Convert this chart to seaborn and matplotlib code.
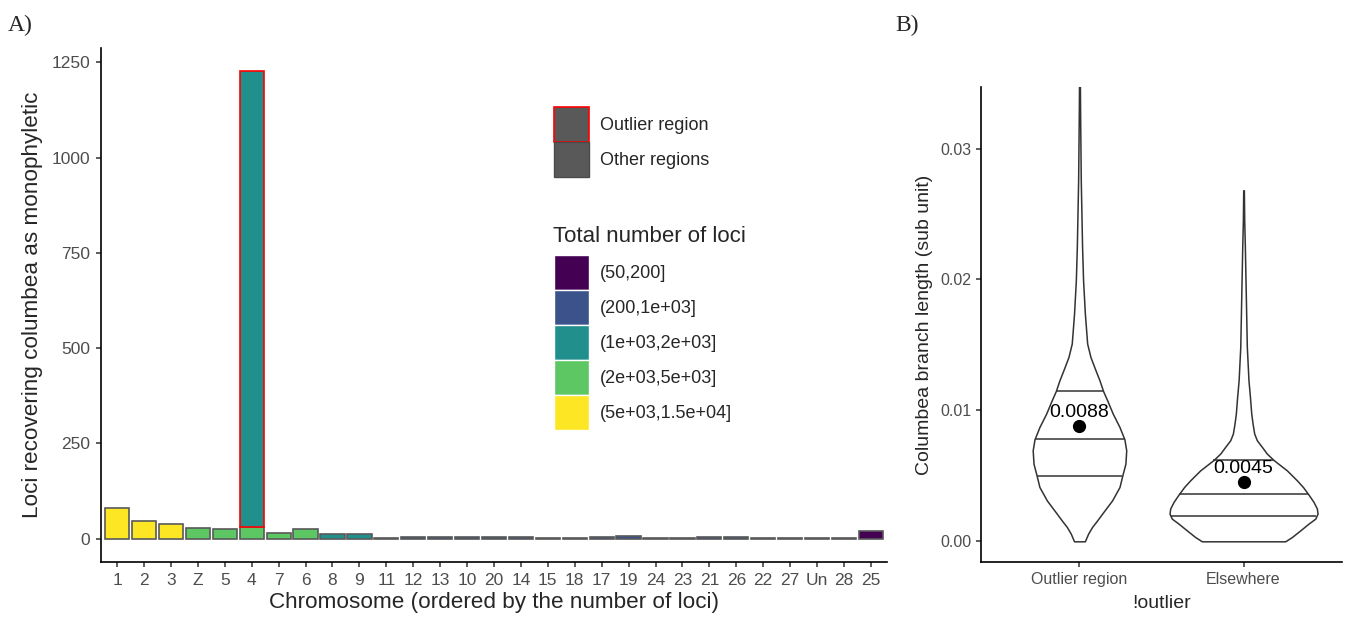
import matplotlib
matplotlib.use("Agg")
import matplotlib.pyplot as plt
from matplotlib.patches import Patch
import numpy as np
import pandas as pd
import seaborn as sns

# ── data: panel A ─────────────────────────────────────────
chrom = ["1", "2", "3", "Z", "5", "4", "7", "6", "8", "9", "11", "12", "13", "10",
         "20", "14", "15", "18", "17", "19", "24", "23", "21", "26", "22", "27",
         "Un", "28", "25"]
mono = [80, 46, 38, 28, 24, 31, 15, 25, 11, 13, 2, 5, 3, 5,
        4, 4, 2, 2, 3, 7, 2, 1, 4, 3, 2, 1,
        1, 1, 19]
bins = ["(50,200]", "(200,1e+03]", "(1e+03,2e+03]", "(2e+03,5e+03]", "(5e+03,1.5e+04]"]
loci_bin = [bins[4]] * 3 + [bins[3]] * 5 + [bins[2]] * 2 + [bins[1]] * 18 + [bins[0]]
outlier_chrom = "4"
outlier_mono = 1196
outlier_bin = bins[2]

# ── data: panel B ─────────────────────────────────────────
groups = ["Outlier region", "Elsewhere"]
means = [0.0088, 0.0045]
quartiles = [[0.0050, 0.0078, 0.0115], [0.0019, 0.0036, 0.0062]]
outlier_y = [0, 0.00059, 0.00110, 0.00160, 0.00211, 0.00313, 0.00415, 0.00497,
             0.00593, 0.00695, 0.00779, 0.00873, 0.00975, 0.01077, 0.01148,
             0.01230, 0.01306, 0.01408, 0.01510, 0.01739, 0.01994, 0.02249,
             0.02503, 0.02758, 0.03013, 0.03267, 0.0360]
outlier_w = [0.033, 0.053, 0.077, 0.108, 0.138, 0.199, 0.244, 0.260,
             0.280, 0.285, 0.274, 0.244, 0.203, 0.169, 0.144,
             0.122, 0.098, 0.067, 0.047, 0.033, 0.022, 0.016,
             0.012, 0.008, 0.006, 0.004, 0.002]
elsewhere_y = [0, 0.00033, 0.00084, 0.00135, 0.00173, 0.00211, 0.00250, 0.00300,
               0.00357, 0.00415, 0.00466, 0.00542, 0.00621, 0.00670, 0.00721,
               0.00772, 0.00823, 0.00899, 0.00975, 0.01103, 0.01230, 0.01485,
               0.01739, 0.01994, 0.02249, 0.02452, 0.02681]
elsewhere_w = [0.254, 0.295, 0.346, 0.396, 0.437, 0.451, 0.447, 0.427,
               0.396, 0.362, 0.325, 0.264, 0.183, 0.142, 0.112,
               0.081, 0.065, 0.055, 0.047, 0.039, 0.030, 0.020,
               0.016, 0.012, 0.008, 0.004, 0.002]

viridis5 = ["#440154", "#3B528B", "#21908C", "#5DC863", "#FDE725"]
pal = dict(zip(bins, viridis5))

sns.set_style("ticks")
plt.rcParams["font.family"] = ["Liberation Sans", "DejaVu Sans"]

fig = plt.figure(figsize=(13.48, 6.18), dpi=100)
axA = fig.add_axes([101 / 1348, 1 - 562 / 618, 786 / 1348, 514 / 618])
axB = fig.add_axes([981 / 1348, 1 - 562 / 618, 361 / 1348, 475 / 618])

# ── panel A ──────────────────────────────────────────────
df = pd.DataFrame({"chrom": chrom, "mono": mono, "bin": loci_bin})
sns.barplot(data=df, x="chrom", y="mono", hue="bin", order=chrom, hue_order=bins,
            palette=pal, dodge=False, width=0.9, saturation=1, legend=False,
            edgecolor="#595959", linewidth=1.2, ax=axA)
i4 = chrom.index(outlier_chrom)
axA.bar(i4, outlier_mono, bottom=mono[i4], width=0.9, color=pal[outlier_bin],
        edgecolor="red", linewidth=1.2, zorder=3)
axA.set_xlim(-0.6, len(chrom) - 0.4)
axA.set_ylim(-61.4, 1288)
axA.set_yticks([0, 250, 500, 750, 1000, 1250])
axA.set_xlabel("Chromosome (ordered by the number of loci)", fontsize=16.2, labelpad=3)
axA.set_ylabel("Loci recovering columbea as monophyletic", fontsize=16.2, labelpad=6)

hh = 2.605
leg1 = axA.legend(handles=[Patch(facecolor="#595959", edgecolor="red", linewidth=1.2, label="Outlier region"),
                           Patch(facecolor="#595959", edgecolor="#4a4a4a", linewidth=1.0, label="Other regions")],
                  loc="upper left", bbox_to_anchor=(554 / 1348, 1 - 107 / 618),
                  bbox_transform=fig.transFigure, frameon=False, fontsize=13,
                  handlelength=1.94, handleheight=hh, labelspacing=0,
                  handletextpad=0.6, borderpad=0, borderaxespad=0)
axA.add_artist(leg1)
axA.legend(handles=[Patch(facecolor=pal[b], edgecolor="white", linewidth=1.0, label=b) for b in bins],
           loc="upper left", bbox_to_anchor=(554 / 1348, 1 - 255 / 618),
           bbox_transform=fig.transFigure, frameon=False, fontsize=13,
           handlelength=1.94, handleheight=hh, labelspacing=0,
           handletextpad=0.6, borderpad=0, borderaxespad=0)
fig.text(553 / 1348, 1 - 242 / 618, "Total number of loci", fontsize=16,
         ha="left", va="baseline")

# ── panel B ──────────────────────────────────────────────
sns.stripplot(x=groups, y=means, order=groups, color="black", size=9.5, jitter=False,
              zorder=4, ax=axB)
profiles = [(outlier_y, outlier_w), (elsewhere_y, elsewhere_w)]
for i, (yy, ww) in enumerate(profiles):
    yy = np.array(yy)
    ww = np.array(ww)
    axB.fill_betweenx(yy, i - ww, i + ww, facecolor="white", edgecolor="#333333",
                      linewidth=1.1, zorder=1)
    for q in quartiles[i]:
        w = np.interp(q, yy, ww)
        axB.hlines(q, i - w, i + w, color="#333333", linewidth=1.1, zorder=2)
    axB.text(i, means[i] + 0.00103, f"{means[i]:.4f}", ha="center", va="center",
             fontsize=14, color="black", zorder=5)
axB.set_xlim(-0.6, 1.6)
axB.set_ylim(-0.00158, 0.0347)
axB.set_yticks([0, 0.01, 0.02, 0.03])
axB.set_yticklabels(["0.00", "0.01", "0.02", "0.03"])
axB.set_xlabel("!outlier", fontsize=14, labelpad=6)
axB.set_ylabel("Columbea branch length (sub unit)", fontsize=14, labelpad=5)

for ax, fs, pad in [(axA, 12.5, 4.2), (axB, 11.5, 3.2)]:
    sns.despine(ax=ax)
    for s in ["left", "bottom"]:
        ax.spines[s].set_linewidth(1.2)
        ax.spines[s].set_color("black")
    ax.tick_params(axis="both", length=3.8, width=1.1, color="#333333",
                   labelcolor="#4D4D4D", labelsize=fs, pad=pad)

fig.text(8 / 1348, 1 - 25 / 618, "A)", fontsize=17, va="center", ha="left",
         family=["Liberation Serif", "DejaVu Serif"])
fig.text(895 / 1348, 1 - 25 / 618, "B)", fontsize=17, va="center", ha="left",
         family=["Liberation Serif", "DejaVu Serif"])

fig.savefig("out.png", dpi=100)
